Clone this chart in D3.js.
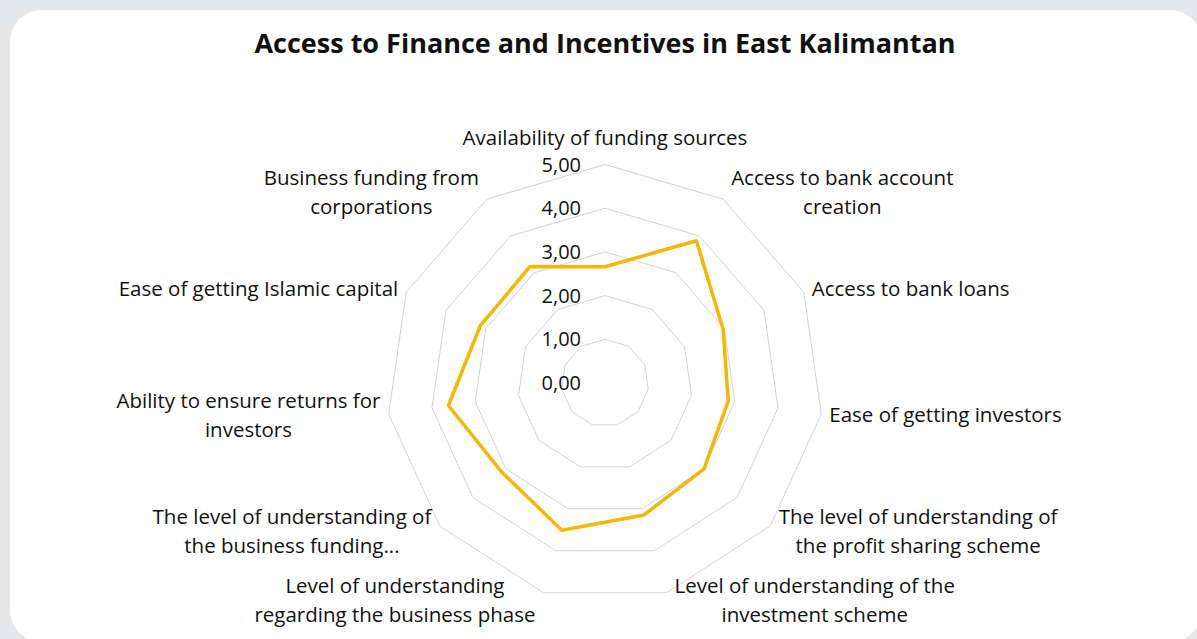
<!DOCTYPE html>
<html lang="en">
<head>
  <meta charset="utf-8">
  <title>Access to Finance and Incentives in East Kalimantan</title>
  <script src="https://cdn.jsdelivr.net/npm/d3@7"></script>
  <style>
    body { margin: 0; background: #e6e7e9; }
    text { font-family: "Open Sans", sans-serif; fill: #111; }
  </style>
</head>
<body>
<script>
  // axis categories, clockwise from the top
  var categories = [
    ["Availability of funding sources"],
    ["Access to bank account", "creation"],
    ["Access to bank loans"],
    ["Ease of getting investors"],
    ["The level of understanding of", "the profit sharing scheme"],
    ["Level of understanding of the", "investment scheme"],
    ["Level of understanding", "regarding the business phase"],
    ["The level of understanding of", "the business funding..."],
    ["Ability to ensure returns for", "investors"],
    ["Ease of getting Islamic capital"],
    ["Business funding from", "corporations"]
  ];
  var scores = [2.66, 3.87, 2.97, 2.85, 3.00, 3.15, 3.51, 3.12, 3.62, 3.14, 3.17];
  var tickValues = [0, 1, 2, 3, 4, 5];
  var tickLabels = ["0,00", "1,00", "2,00", "3,00", "4,00", "5,00"];

  var w = 1197, h = 639;
  var cx = 605, cy = 383, R = 218.5;

  var svg = d3.select("body").append("svg")
    .attr("width", w)
    .attr("height", h);

  // white card
  svg.append("rect")
    .attr("x", 10).attr("y", 10)
    .attr("width", 1192).attr("height", 632)
    .attr("rx", 32)
    .attr("fill", "#fff");

  svg.append("text")
    .attr("x", cx).attr("y", 53)
    .attr("text-anchor", "middle")
    .style("font-weight", "bold")
    .style("font-size", "27px")
    .text("Access to Finance and Incentives in East Kalimantan");

  var n = categories.length;
  var angle = d3.scaleLinear().domain([0, n]).range([0, 2 * Math.PI]);
  var r = d3.scaleLinear().domain([0, 5]).range([0, R]);

  var g = svg.append("g").attr("transform", "translate(" + cx + "," + cy + ")");

  var ring = d3.lineRadial()
    .angle(function(d, i) { return angle(i); })
    .radius(function(d) { return r(d); })
    .curve(d3.curveLinearClosed);

  // grid rings
  g.selectAll(".ring")
    .data(tickValues.filter(function(v) { return v > 0; }))
    .enter()
    .append("path")
    .attr("class", "ring")
    .attr("d", function(v) { return ring(d3.range(n).map(function() { return v; })); })
    .attr("fill", "none")
    .attr("stroke", "#d2d2d2")
    .attr("stroke-width", 1);

  // data line
  g.append("path")
    .attr("d", ring(scores))
    .attr("fill", "none")
    .attr("stroke", "#f5b700")
    .attr("stroke-width", 3.5)
    .attr("stroke-linejoin", "round");

  // value labels
  g.selectAll(".tick")
    .data(tickValues)
    .enter()
    .append("text")
    .attr("class", "tick")
    .attr("x", -24)
    .attr("y", function(v) { return -r(v); })
    .attr("dy", "0.35em")
    .attr("text-anchor", "end")
    .style("font-size", "20px")
    .text(function(v, i) { return tickLabels[i]; });

  // category labels
  var lineH = 29;
  categories.forEach(function(lines, i) {
    var a = angle(i);
    var s = Math.sin(a), c = Math.cos(a);
    var vx = R * s, vy = -R * c;
    var lab = g.append("g");
    lines.forEach(function(t, k) {
      lab.append("text")
        .attr("x", 0)
        .attr("y", (k - (lines.length - 1) / 2) * lineH)
        .attr("dy", "0.35em")
        .attr("text-anchor", "middle")
        .style("font-size", "20.5px")
        .text(t);
    });
    var bw = lab.node().getBBox().width;
    var gx, gy;
    if (Math.abs(s) < 0.05) {
      gx = vx;
      gy = vy - 12 - lineH / 2 * lines.length;
    } else {
      gx = vx + (s > 0 ? 1 : -1) * (8 + bw / 2);
      gy = vy - c * 8;
    }
    lab.attr("transform", "translate(" + gx + "," + gy + ")");
  });
</script>
</body>
</html>
